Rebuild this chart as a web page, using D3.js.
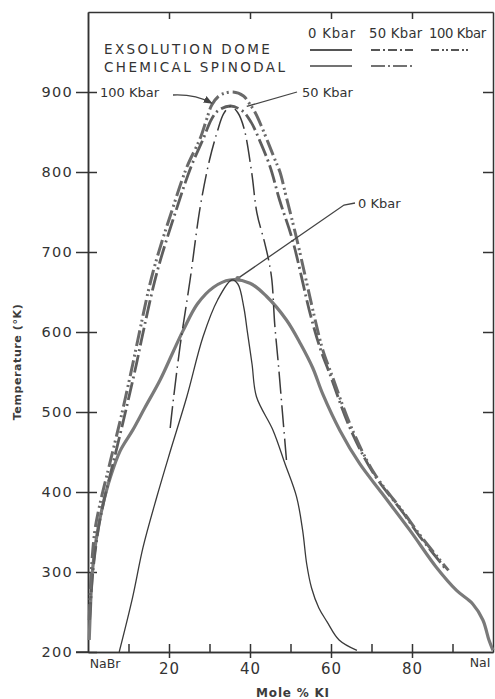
<!DOCTYPE html>
<html>
<head>
<meta charset="utf-8">
<script src="https://cdnjs.cloudflare.com/ajax/libs/d3/7.8.5/d3.min.js"></script>
<style>
  body { margin: 0; background: #fff; }
  text { font-family: "DejaVu Sans", sans-serif; fill: #333; }
</style>
</head>
<body>
<div id="vis"></div>
<script>
var width = 495, height = 699;

// tick values
var yTicks = [200, 300, 400, 500, 600, 700, 800, 900];
var xLabelTicks = [20, 40, 60, 80];
var xMinorTicks = [10, 30, 50, 70, 90];

// [mole % KI, temperature K]
var dome0 = [[0.3, 215], [0.6, 255], [1, 295], [2, 340], [3.5, 380], [5.5, 418], [8, 452], [11, 477],
             [14, 505], [17.8, 540], [21, 575], [23.5, 602], [27, 635], [31, 656], [35, 665], [40, 661],
             [44, 645], [49, 615], [52.5, 585], [55.5, 555], [58, 522], [62.2, 477], [67, 436], [72.5, 399],
             [79.5, 352], [86, 306], [91, 277], [95, 260], [97.5, 240], [99, 215], [100, 202]];
var dome50 = [[0.4, 240], [1.2, 300], [2.5, 352], [3.8, 386], [6.2, 436], [9.2, 499], [12, 561], [13.2, 590],
              [17, 674], [22, 756], [25.4, 806], [28.5, 842], [30.5, 866], [32.2, 877], [35.2, 882.5],
              [38.2, 876], [40.3, 862], [42.5, 838], [45, 806], [47.3, 765], [50.5, 715], [55, 620],
              [57.5, 577], [59.6, 549], [64.6, 481], [70.4, 424], [77.8, 374], [82, 344], [88.6, 302]];
var dome100 = [[0.3, 240], [0.8, 300], [1.7, 352], [3, 386], [5.4, 436], [8.4, 499], [11.1, 561], [12.3, 590],
               [16, 674], [21, 756], [24.4, 806], [27.7, 842], [29.3, 866], [30.6, 884], [32.6, 896],
               [35.8, 900], [38.4, 895], [39.8, 886], [41.3, 874], [43, 855], [46.2, 815], [47.4, 800],
               [48.9, 770], [51.6, 715], [56, 617], [58, 577], [60, 549], [65, 481], [70.6, 424],
               [78, 374], [82.3, 344], [89, 302]];
var spin0 = [[7.7, 200], [11, 268], [13.6, 331], [17, 394], [20.2, 449], [24.4, 519], [28.4, 594],
             [32, 640], [35.5, 665], [37, 660], [38.5, 630], [39.3, 602], [40.5, 560], [41.6, 519],
             [45.7, 477], [48.6, 436], [51.5, 394], [53, 352], [54, 310], [55.2, 280], [57, 255],
             [59, 238], [62, 215], [66.4, 202]];
var spin50 = [[20.3, 480], [20.7, 499], [22.7, 581], [25.2, 665], [27.7, 756], [30, 815], [31.9, 850],
              [33.5, 873], [35.2, 882], [37, 874], [38.5, 855], [40.4, 800], [41.7, 749], [43.6, 712],
              [44.6, 690], [45.4, 665], [46.1, 610], [47, 560], [48, 500], [49, 440]];

var pressures = ["0 Kbar", "50 Kbar", "100 Kbar"];

var x = d3.scaleLinear().domain([0, 100]).range([88, 493]);
var y = d3.scaleLinear().domain([200, 1000]).range([652, 12]);

var svg = d3.select("#vis").append("svg")
    .attr("width", width)
    .attr("height", height);

var line = d3.line()
    .x(function(d) { return x(d[0]); })
    .y(function(d) { return y(d[1]); })
    .curve(d3.curveCatmullRom.alpha(0.5));

var dash50 = "18,4,2,4";
var dash100 = "16,4,2,3,2,4";

// frame + axes
function styleAxis(g) {
  g.selectAll("path, line").attr("stroke", "#333").attr("stroke-width", 1.5);
  g.selectAll("text").style("font-size", "14.5px").style("letter-spacing", "1.3px").attr("fill", "#333");
}

svg.append("g")
    .attr("transform", "translate(" + x(0) + ",0)")
    .call(d3.axisLeft(y).tickValues(yTicks).tickSize(12).tickSizeOuter(0).tickPadding(3))
    .call(styleAxis);
svg.append("g")
    .attr("transform", "translate(" + x(0) + ",0)")
    .call(d3.axisRight(y).tickValues(yTicks).tickSize(9).tickSizeOuter(0).tickFormat(""))
    .call(styleAxis);

svg.append("g")
    .attr("transform", "translate(0," + y(200) + ")")
    .call(d3.axisBottom(x).tickValues(xLabelTicks).tickSize(6).tickSizeOuter(0).tickPadding(5))
    .call(styleAxis)
    .call(function(g) { g.selectAll("text").style("font-size", "15px").style("letter-spacing", "1px"); });
svg.append("g")
    .attr("transform", "translate(0," + y(200) + ")")
    .call(d3.axisTop(x).tickValues(xLabelTicks.concat(xMinorTicks)).tickSize(8).tickSizeOuter(0).tickFormat(""))
    .call(styleAxis);
svg.append("line")
    .attr("x1", x(0) - 12).attr("x2", x(0))
    .attr("y1", y(200)).attr("y2", y(200))
    .attr("stroke", "#333").attr("stroke-width", 1.5);

svg.append("g")
    .attr("transform", "translate(0," + y(1000) + ")")
    .call(d3.axisBottom(x).tickValues(xLabelTicks).tickSize(7).tickSizeOuter(0).tickFormat(""))
    .call(styleAxis);
svg.append("g")
    .attr("transform", "translate(" + x(100) + ",0)")
    .call(d3.axisLeft(y).tickValues(yTicks.slice(1)).tickSize(10).tickSizeOuter(0).tickFormat(""))
    .call(styleAxis);

// axis titles
svg.append("text")
    .attr("transform", "translate(21,362) rotate(-90)")
    .style("text-anchor", "middle")
    .style("font-size", "11px")
    .style("font-weight", "bold")
    .style("letter-spacing", "0.6px")
    .style("fill", "#3c3c3c")
    .text("Temperature (°K)");

svg.append("text")
    .attr("x", 293).attr("y", 697)
    .style("text-anchor", "middle")
    .style("font-size", "12px")
    .style("font-weight", "bold")
    .style("letter-spacing", "0.8px")
    .style("fill", "#3c3c3c")
    .text("Mole % KI");

svg.append("text")
    .attr("x", x(4.2)).attr("y", 668)
    .style("text-anchor", "middle")
    .style("font-size", "12.5px")
    .text("NaBr");
svg.append("text")
    .attr("x", x(96.8)).attr("y", 667)
    .style("text-anchor", "middle")
    .style("font-size", "12.5px")
    .text("NaI");

// curves
svg.append("path").datum(dome0).attr("d", line)
    .attr("fill", "none").attr("stroke", "#7a7a7a").attr("stroke-width", 3.2);
svg.append("path").datum(dome50).attr("d", line)
    .attr("fill", "none").attr("stroke", "#5e5e5e").attr("stroke-width", 2.8)
    .attr("stroke-dasharray", dash50);
svg.append("path").datum(dome100).attr("d", line)
    .attr("fill", "none").attr("stroke", "#6a6a6a").attr("stroke-width", 3)
    .attr("stroke-dasharray", dash100);
svg.append("path").datum(spin0).attr("d", line)
    .attr("fill", "none").attr("stroke", "#3a3a3a").attr("stroke-width", 1.3);
svg.append("path").datum(spin50).attr("d", line)
    .attr("fill", "none").attr("stroke", "#3a3a3a").attr("stroke-width", 1.5)
    .attr("stroke-dasharray", "22,5,1.5,5");

// legend
svg.append("text")
    .attr("x", 104).attr("y", 54)
    .style("font-size", "13.5px").style("letter-spacing", "2.4px")
    .text("EXSOLUTION DOME");
svg.append("text")
    .attr("x", 104).attr("y", 72)
    .style("font-size", "13.5px").style("letter-spacing", "2.4px")
    .text("CHEMICAL SPINODAL");

var legX = [310, 371, 431];
var legW = [42, 42, 39];
var legSpacing = ["0.8px", "0.3px", "-0.4px"];

svg.selectAll("legheads")
  .data(pressures)
  .enter()
  .append("text")
    .attr("x", function(d, i) { return legX[i] - 2; })
    .attr("y", 38)
    .style("font-size", "13.2px")
    .style("letter-spacing", function(d, i) { return legSpacing[i]; })
    .text(function(d) { return d; });

var legDash = [null, "9,3,2,3", "8,3,2,2,2,3"];
svg.selectAll("legdome")
  .data(pressures)
  .enter()
  .append("line")
    .attr("x1", function(d, i) { return legX[i]; })
    .attr("x2", function(d, i) { return legX[i] + legW[i]; })
    .attr("y1", 50).attr("y2", 50)
    .attr("stroke", "#555").attr("stroke-width", 2.2)
    .attr("stroke-dasharray", function(d, i) { return legDash[i]; });

svg.selectAll("legspin")
  .data(pressures.slice(0, 2))
  .enter()
  .append("line")
    .attr("x1", function(d, i) { return legX[i]; })
    .attr("x2", function(d, i) { return legX[i] + legW[i]; })
    .attr("y1", 66).attr("y2", 66)
    .attr("stroke", "#444").attr("stroke-width", 1.3)
    .attr("stroke-dasharray", function(d, i) { return i ? "14,3,2,3" : null; });

// labels with leaders
svg.append("defs").append("marker")
    .attr("id", "arr")
    .attr("viewBox", "0 0 10 10")
    .attr("refX", 9).attr("refY", 5)
    .attr("markerWidth", 7).attr("markerHeight", 7)
    .attr("orient", "auto")
  .append("path")
    .attr("d", "M0,1 L10,5 L0,9 Z")
    .attr("fill", "#444");

svg.append("text")
    .attr("x", 100).attr("y", 97)
    .style("font-size", "13px")
    .text("100 Kbar");
svg.append("path")
    .attr("d", "M" + 173 + "," + 95 + " Q" + 195 + "," + 94 + " " + x(30.6) + "," + y(886))
    .attr("fill", "none").attr("stroke", "#444").attr("stroke-width", 1.3)
    .attr("marker-end", "url(#arr)");

svg.append("text")
    .attr("x", 302).attr("y", 97)
    .style("font-size", "13px")
    .text("50 Kbar");
svg.append("path")
    .attr("d", "M" + 297 + "," + 92 + " L" + x(39.2) + "," + y(882))
    .attr("fill", "none").attr("stroke", "#444").attr("stroke-width", 1.3);

svg.append("text")
    .attr("x", 358).attr("y", 208)
    .style("font-size", "13px")
    .text("0 Kbar");
svg.append("path")
    .attr("d", "M" + 355 + "," + 203 + " L" + 344 + "," + 205 + " L" + x(37) + "," + y(667))
    .attr("fill", "none").attr("stroke", "#444").attr("stroke-width", 1.3);
svg.append("circle")
    .attr("cx", x(37)).attr("cy", y(667)).attr("r", 2.5)
    .attr("fill", "#777");
</script>
</body>
</html>
